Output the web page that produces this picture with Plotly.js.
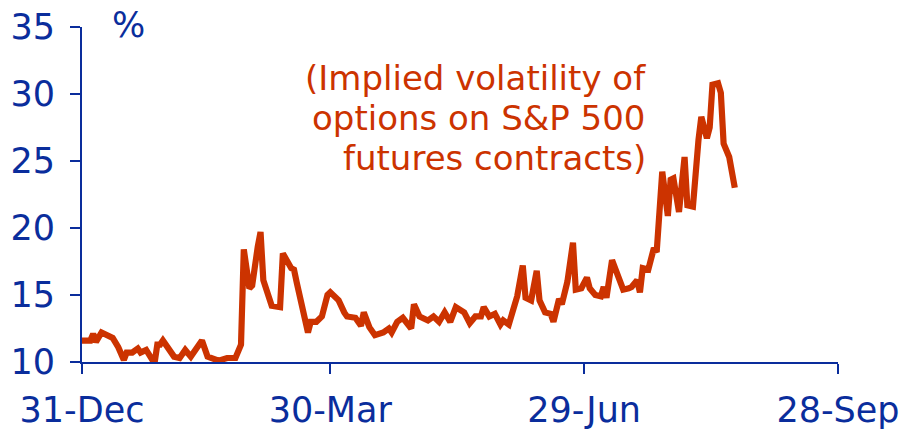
<!DOCTYPE html>
<html>
<head>
<meta charset="utf-8">
<script src="https://cdn.plot.ly/plotly-3.0.1.min.js"></script>
<style>
html,body{margin:0;padding:0;background:#fff;}
#chart{width:904px;height:429px;}
</style>
</head>
<body>
<div id="chart"></div>
<script>
// Implied volatility of options on S&P 500 futures contracts (%)
var dates = [
 "2006-12-31","2007-01-03","2007-01-04","2007-01-05","2007-01-07","2007-01-09","2007-01-11","2007-01-13","2007-01-15","2007-01-16",
 "2007-01-18","2007-01-20","2007-01-21","2007-01-23","2007-01-24","2007-01-26","2007-01-27","2007-01-28","2007-01-29","2007-01-31",
 "2007-02-02","2007-02-04","2007-02-06","2007-02-08","2007-02-09","2007-02-12","2007-02-14","2007-02-16","2007-02-18","2007-02-21",
 "2007-02-24","2007-02-26","2007-02-27","2007-03-01","2007-03-02","2007-03-04","2007-03-05","2007-03-06","2007-03-08","2007-03-09",
 "2007-03-12","2007-03-13","2007-03-16","2007-03-17","2007-03-18","2007-03-20","2007-03-22","2007-03-23","2007-03-25","2007-03-27",
 "2007-03-29","2007-03-30","2007-04-01","2007-04-02","2007-04-04","2007-04-05","2007-04-08","2007-04-10","2007-04-11","2007-04-13",
 "2007-04-15","2007-04-18","2007-04-20","2007-04-21","2007-04-23","2007-04-25","2007-04-28","2007-04-29","2007-05-01","2007-05-04",
 "2007-05-06","2007-05-08","2007-05-10","2007-05-12","2007-05-14","2007-05-15","2007-05-17","2007-05-19","2007-05-21","2007-05-23",
 "2007-05-24","2007-05-26","2007-05-28","2007-05-30","2007-05-31","2007-06-02","2007-06-03","2007-06-05","2007-06-07","2007-06-08",
 "2007-06-10","2007-06-12","2007-06-13","2007-06-15","2007-06-17","2007-06-18","2007-06-20","2007-06-21","2007-06-23","2007-06-25",
 "2007-06-26","2007-06-28","2007-06-30","2007-07-01","2007-07-03","2007-07-05","2007-07-06","2007-07-07","2007-07-09","2007-07-11",
 "2007-07-13","2007-07-15","2007-07-16","2007-07-18","2007-07-19","2007-07-20","2007-07-22","2007-07-24","2007-07-25","2007-07-27",
 "2007-07-29","2007-07-30","2007-07-31","2007-08-02","2007-08-04","2007-08-05","2007-08-07","2007-08-09","2007-08-10","2007-08-12",
 "2007-08-13","2007-08-14","2007-08-16","2007-08-17","2007-08-18","2007-08-20","2007-08-22"
];
var volatility = [
 11.6, 11.6, 12.1, 11.5, 12.2, 12.0, 11.8, 11.1, 10.15, 10.7,
 10.7, 11.0, 10.7, 10.9, 10.5, 9.9, 11.3, 11.3, 11.6, 10.9,
 10.4, 10.3, 10.9, 10.4, 10.7, 11.6, 10.4, 10.3, 10.1, 10.3,
 10.3, 11.3, 18.4, 15.5, 15.7, 18.6, 19.7, 16.1, 15.0, 14.2,
 14.1, 18.1, 17.0, 16.9, 15.9, 13.9, 12.2, 13.0, 13.0, 13.4,
 15.0, 15.2, 14.7, 14.6, 13.7, 13.4, 13.3, 12.7, 13.7, 12.6,
 12.0, 12.2, 12.5, 12.2, 13.0, 13.3, 12.5, 14.3, 13.4, 13.1,
 13.4, 13.0, 13.7, 13.0, 14.1, 14.0, 13.7, 12.9, 13.4, 13.4,
 14.1, 13.4, 13.6, 12.8, 13.1, 12.8, 13.5, 14.9, 17.2, 14.8,
 14.6, 16.8, 14.6, 13.7, 13.6, 13.0, 14.7, 14.3, 16.0, 18.9,
 15.4, 15.5, 16.3, 15.5, 15.0, 14.9, 15.6, 14.8, 17.6, 16.6,
 15.4, 15.5, 15.6, 16.1, 15.2, 17.0, 16.9, 18.5, 18.2, 24.2,
 20.9, 23.6, 23.7, 21.2, 25.3, 21.7, 21.6, 26.6, 28.3, 26.7,
 27.5, 30.7, 30.8, 30.1, 26.3, 25.3, 23.0
];
var xTickVals = ["2006-12-31","2007-03-30","2007-06-29","2007-09-28"];
var xTickText = ["31-Dec","30-Mar","29-Jun","28-Sep"];
var yTickVals = [10,15,20,25,30,35];
var unitLabel = "%";
var noteLines = ["(Implied volatility of", "options on S&P 500", "futures contracts)"];

var blue = "#0a2d9c";
var red = "#cc3300";
var fam = "'DejaVu Sans', Verdana, sans-serif";

var trace = {
  x: dates, y: volatility, type: "scatter", mode: "lines",
  line: {color: red, width: 6.2, shape: "linear"},
  hoverinfo: "skip"
};

var noteY = [0.848, 0.728, 0.609];
var annotations = [
  {text: unitLabel, xref: "paper", yref: "paper", x: 0.061, y: 1.005,
   xanchor: "center", yanchor: "middle", showarrow: false,
   font: {family: fam, size: 35, color: blue}}
];
noteLines.forEach(function (t, i) {
  annotations.push({text: t, xref: "paper", yref: "paper", x: 0.749, y: noteY[i],
    xanchor: "right", yanchor: "middle", align: "right", showarrow: false,
    font: {family: fam, size: 34, color: red}});
});

var layout = {
  width: 904, height: 429,
  margin: {l: 82, r: 66, t: 27, b: 67, pad: 0},
  paper_bgcolor: "#ffffff", plot_bgcolor: "#ffffff",
  showlegend: false,
  font: {family: fam, color: blue, size: 35},
  xaxis: {
    type: "date",
    range: ["2006-12-31", "2007-09-28"],
    tickmode: "array", tickvals: xTickVals, ticktext: xTickText,
    showgrid: false, zeroline: false,
    showline: true, linecolor: blue, linewidth: 2,
    ticks: "outside", ticklen: 10, tickwidth: 2, tickcolor: blue,
    ticklabelstandoff: 6,
    tickfont: {family: fam, size: 35, color: blue}
  },
  yaxis: {
    range: [10, 35],
    tickmode: "array", tickvals: yTickVals,
    showgrid: false, zeroline: false,
    showline: true, linecolor: blue, linewidth: 2,
    ticks: "outside", ticklen: 10, tickwidth: 2, tickcolor: blue,
    ticklabelstandoff: 8,
    tickfont: {family: fam, size: 35, color: blue}
  },
  annotations: annotations
};

Plotly.newPlot("chart", [trace], layout, {staticPlot: true, displayModeBar: false});
</script>
</body>
</html>
